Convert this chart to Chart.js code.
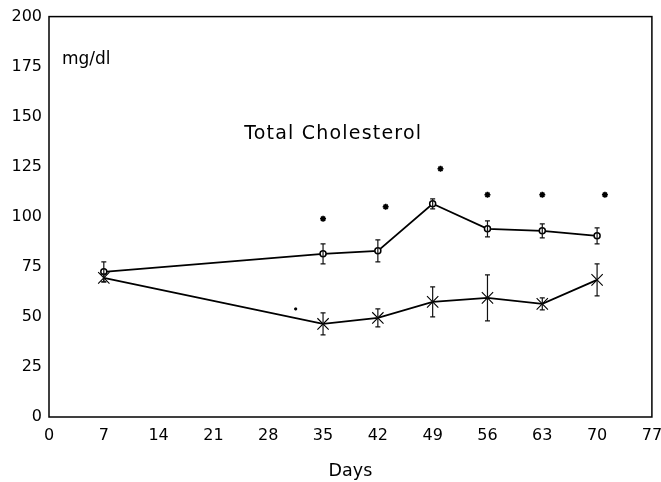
<!DOCTYPE html>
<html>
<head>
<meta charset="utf-8">
<script src="https://cdn.jsdelivr.net/npm/chart.js@4/dist/chart.umd.min.js"></script>
<style>
  html, body { margin: 0; padding: 0; background: #fff; }
  #wrap { width: 661px; height: 482px; }
</style>
</head>
<body>
<div id="wrap"><canvas id="chart"></canvas></div>
<script>
// sampling days
const days = [7, 35, 42, 49, 56, 63, 70];

// open circle series (mean and half error bar)
const circleMean = [72.5, 81.5, 83, 106.5, 94, 93, 90.5];
const circleErr = [5, 5, 5.5, 2.5, 4, 3.5, 4];

// asterisk series
const starMean = [69.5, 46.5, 49.5, 57.5, 59.5, 56.5, 68.5];
const starErr = [2, 5.5, 4.5, 7.5, 11.5, 3, 8];

// significance marks above the points
const sigDays = [35, 43, 50, 56, 63, 71, 31.5];
const sigValues = [99, 105, 124, 111, 111, 111, 54];

const xTicks = [0, 7, 14, 21, 28, 35, 42, 49, 56, 63, 70, 77];
const yTicks = [0, 25, 50, 75, 100, 125, 150, 175, 200];

const FONT = "'DejaVu Sans', sans-serif";

const toPoints = (xs, ys) => xs.map((x, i) => ({ x: x, y: ys[i] }));

// draws error bars, plot frame and the two in-plot labels
const extras = {
  id: "extras",
  afterDatasetsDraw(chart) {
    const ctx = chart.ctx;
    const xs = chart.scales.x;
    const ys = chart.scales.y;
    const area = chart.chartArea;

    ctx.save();
    ctx.strokeStyle = "#111";
    ctx.lineWidth = 1.2;
    chart.data.datasets.forEach((ds) => {
      if (!ds.errors) return;
      ds.data.forEach((p, i) => {
        const px = xs.getPixelForValue(p.x);
        const top = ys.getPixelForValue(p.y + ds.errors[i]);
        const bot = ys.getPixelForValue(p.y - ds.errors[i]);
        ctx.beginPath();
        ctx.moveTo(px, top);
        ctx.lineTo(px, bot);
        ctx.moveTo(px - 2.5, top);
        ctx.lineTo(px + 2.5, top);
        ctx.moveTo(px - 2.5, bot);
        ctx.lineTo(px + 2.5, bot);
        ctx.stroke();
      });
    });

    ctx.lineWidth = 1.5;
    ctx.strokeStyle = "#000";
    ctx.strokeRect(area.left, area.top, area.right - area.left, area.bottom - area.top);

    ctx.fillStyle = "#000";
    ctx.textBaseline = "middle";
    ctx.font = "17px " + FONT;
    ctx.textAlign = "left";
    ctx.fillText("mg/dl", xs.getPixelForValue(1.65), ys.getPixelForValue(178.5));
    ctx.font = "19px " + FONT;
    ctx.letterSpacing = "1.2px";
    ctx.textAlign = "center";
    ctx.fillText("Total Cholesterol", xs.getPixelForValue(36.3), ys.getPixelForValue(141.5));
    ctx.restore();
  },
};

new Chart(document.getElementById("chart"), {
  type: "line",
  data: {
    datasets: [
      {
        label: "Open circles",
        data: toPoints(days, circleMean),
        errors: circleErr,
        borderColor: "#000",
        borderWidth: 1.8,
        pointStyle: "circle",
        pointRadius: 3,
        pointBackgroundColor: "#fff",
        pointBorderColor: "#000",
        pointBorderWidth: 1.5,
        tension: 0,
      },
      {
        label: "Asterisks",
        data: toPoints(days, starMean),
        errors: starErr,
        borderColor: "#000",
        borderWidth: 1.8,
        pointStyle: "crossRot",
        pointRadius: 8,
        pointBorderColor: "#000",
        pointBorderWidth: 1.1,
        tension: 0,
      },
      {
        label: "Significance",
        data: toPoints(sigDays, sigValues),
        showLine: false,
        pointStyle: "star",
        pointRadius: [3, 3, 3, 3, 3, 3, 1.5],
        pointBorderColor: "#000",
        pointBorderWidth: 1.6,
      },
    ],
  },
  options: {
    responsive: true,
    maintainAspectRatio: false,
    animation: false,
    layout: { padding: { top: 15, right: 8, left: 0, bottom: 0 } },
    plugins: {
      legend: { display: false },
      tooltip: { enabled: false },
    },
    scales: {
      x: {
        type: "linear",
        min: 0,
        max: 77,
        grid: { display: false, drawTicks: false },
        border: { display: false },
        afterBuildTicks: (scale) => {
          scale.ticks = xTicks.map((v) => ({ value: v }));
        },
        afterFit: (scale) => {
          scale.height = 65;
          scale.paddingRight = 0;
          scale.paddingLeft = 0;
        },
        ticks: {
          color: "#000",
          padding: 9,
          maxRotation: 0,
          font: { family: FONT, size: 16 },
        },
        title: {
          display: true,
          text: "Days",
          color: "#000",
          padding: { top: 1, bottom: 0 },
          font: { family: FONT, size: 17.5 },
        },
      },
      y: {
        min: 0,
        max: 200,
        grid: { display: false, drawTicks: false },
        border: { display: false },
        afterBuildTicks: (scale) => {
          scale.ticks = yTicks.map((v) => ({ value: v }));
        },
        afterFit: (scale) => {
          scale.width = 49;
        },
        ticks: {
          color: "#000",
          padding: 7,
          font: { family: FONT, size: 16 },
        },
      },
    },
  },
  plugins: [extras],
});
</script>
</body>
</html>
